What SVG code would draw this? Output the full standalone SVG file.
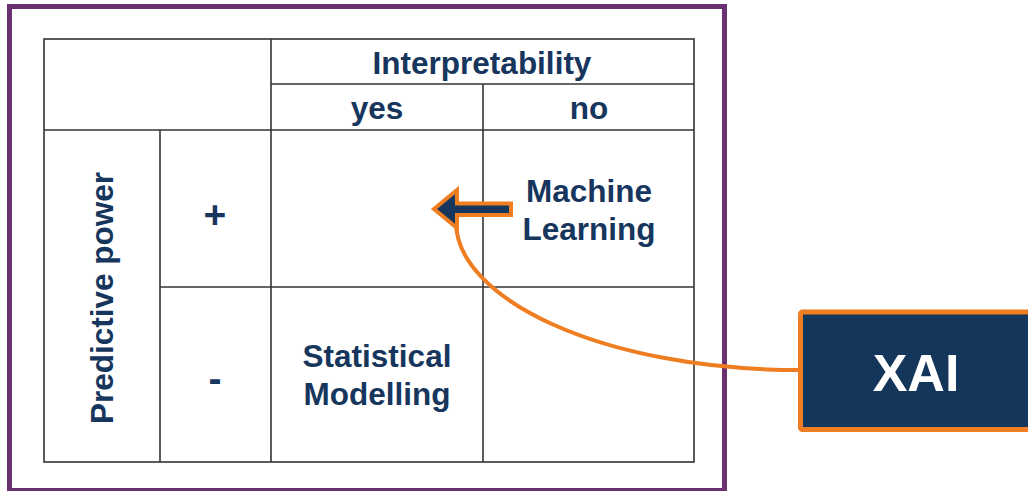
<svg xmlns="http://www.w3.org/2000/svg" width="1028" height="491" viewBox="0 0 1028 491">
  <style>
    .grid { stroke: #333; stroke-width: 1.6; fill: none; }
    .lbl { font-family: "Liberation Sans", Arial, sans-serif; font-weight: bold; font-size: 31.5px; fill: #17365d; text-anchor: middle; }
    .sign { font-size: 39px; }
    .xai { font-family: "Liberation Sans", Arial, sans-serif; font-weight: bold; font-size: 52px; fill: #ffffff; text-anchor: middle; }
    .link { stroke: #ef7d22; stroke-width: 4; fill: none; }
  </style>

  <rect width="1028" height="491" fill="#ffffff"/>

  <!-- outer frame -->
  <rect id="frame" x="9.5" y="6.5" width="715" height="484" fill="none" stroke="#6a3171" stroke-width="5"/>

  <!-- matrix grid -->
  <g id="matrix" class="grid">
    <rect x="44" y="39" width="650" height="423"/>
    <line x1="271" y1="39" x2="271" y2="462"/>
    <line x1="271" y1="84" x2="694" y2="84"/>
    <line x1="44" y1="130" x2="694" y2="130"/>
    <line x1="483" y1="84" x2="483" y2="462"/>
    <line x1="160" y1="130" x2="160" y2="462"/>
    <line x1="160" y1="287" x2="694" y2="287"/>
  </g>

  <!-- headers -->
  <g id="header-interpretability"><text class="lbl" x="482" y="74">Interpretability</text></g>
  <g id="header-yes"><text class="lbl" x="377" y="119">yes</text></g>
  <g id="header-no"><text class="lbl" x="589" y="119">no</text></g>
  <g id="header-predictive"><text class="lbl" transform="translate(113,298) rotate(-90)" x="0" y="0">Predictive power</text></g>
  <g id="row-plus"><text class="lbl sign" x="215" y="228">+</text></g>
  <g id="row-minus"><text class="lbl sign" x="215" y="392">-</text></g>

  <!-- cells -->
  <g id="cell-ml">
    <text class="lbl" x="589" y="202">Machine</text>
    <text class="lbl" x="589" y="240">Learning</text>
  </g>
  <g id="cell-stat">
    <text class="lbl" x="377" y="367">Statistical</text>
    <text class="lbl" x="377" y="405">Modelling</text>
  </g>

  <!-- connectors -->
  <g id="connectors">
    <path class="link" d="M456,222 C456,298 600,370 800,370"/>
    <polygon points="434,209 457,190 457,203.5 511,203.5 511,215 457,215 457,228" fill="#17365d" stroke="#ef7d22" stroke-width="4" stroke-linejoin="miter"/>
  </g>

  <!-- XAI box -->
  <g id="xai">
    <rect x="800.5" y="312" width="240" height="117.5" rx="2" fill="#14365a" stroke="#ef7d22" stroke-width="5"/>
    <text class="xai" x="916" y="391">XAI</text>
  </g>
</svg>
